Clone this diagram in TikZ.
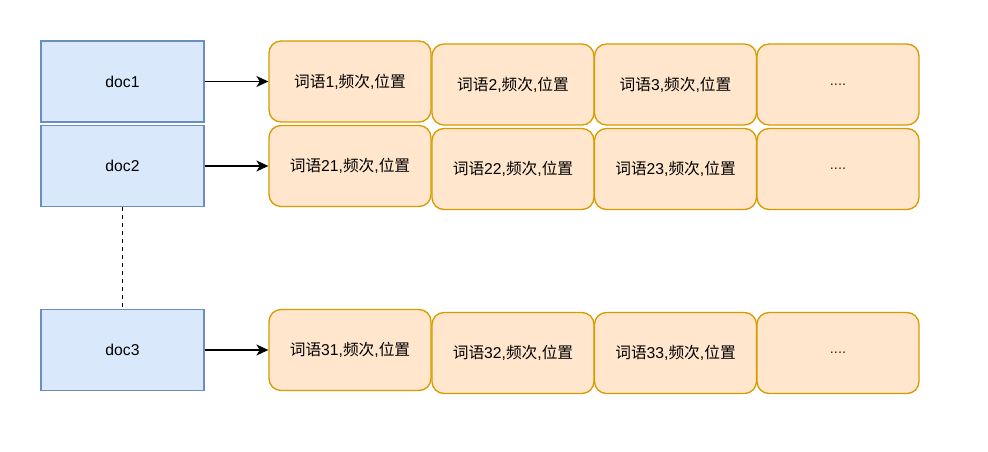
\documentclass[tikz,border=0pt]{standalone}
\usepackage{fontspec}
\setmainfont{Liberation Sans}
\newfontfamily\cjk{Noto Sans CJK SC}
\usetikzlibrary{arrows.meta}
\definecolor{docfill}{HTML}{DAE8FC}
\definecolor{docline}{HTML}{6C8EBF}
\definecolor{termfill}{HTML}{FFE6CC}
\definecolor{termline}{HTML}{D79B00}
\newcommand{\term}[1]{{\cjk 词语}#1,{\cjk 频次},{\cjk 位置}}
\begin{document}
\begin{tikzpicture}[x=1pt,y=-1pt,
  docbox/.style={draw=docline,fill=docfill,line width=1.3pt,minimum width=163pt,minimum height=81pt,inner sep=0pt,font=\fontsize{15.7}{18}\selectfont},
  termbox/.style={draw=termline,fill=termfill,line width=1.3pt,rounded corners=12pt,minimum width=162pt,minimum height=81pt,inner sep=0pt,font=\fontsize{15.7}{18}\selectfont},
  dots/.style={font=\fontsize{14.5}{16}\selectfont,text=black!85},
  conn/.style={line width=1.3pt,-{Stealth[length=12pt,width=11pt,inset=3.5pt]}}]
\useasboundingbox (0,0) rectangle (988,452);
% docs
\node[docbox] (d1) at (122.5,81.5) {doc1};
\node[docbox] (d2) at (122.5,166) {doc2};
\node[docbox] (d3) at (122.5,350) {doc3};
% row 1
\node[termbox] (t11) at (350,81.5) {\term{1}};
\node[termbox] (t12) at (513,84.5) {\term{2}};
\node[termbox] (t13) at (675.5,84.5) {\term{3}};
\node[termbox,dots] (t14) at (838,84.5) {....};
% row 2
\node[termbox] (t21) at (350,166) {\term{21}};
\node[termbox] (t22) at (513,169) {\term{22}};
\node[termbox] (t23) at (675.5,169) {\term{23}};
\node[termbox,dots] (t24) at (838,169) {....};
% row 3
\node[termbox] (t31) at (350,350) {\term{31}};
\node[termbox] (t32) at (513,353) {\term{32}};
\node[termbox] (t33) at (675.5,353) {\term{33}};
\node[termbox,dots] (t34) at (838,353) {....};
% connectors
\draw[conn] (d1.east) -- (t11.west);
\draw[conn] (d2.east) -- (t21.west);
\draw[conn] (d3.east) -- (t31.west);
\draw[line width=1.3pt,dash pattern=on 4pt off 4pt] (d2.south) -- (d3.north);
\end{tikzpicture}
\end{document}
